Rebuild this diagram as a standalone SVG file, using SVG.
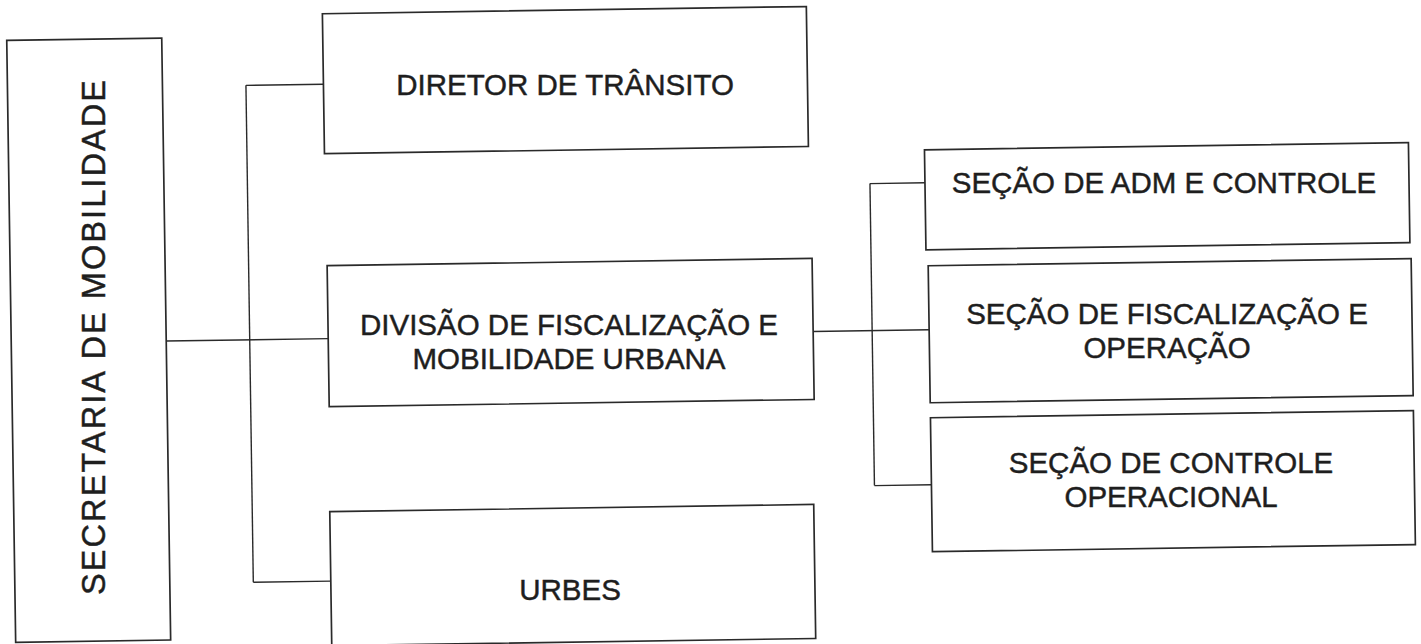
<svg xmlns="http://www.w3.org/2000/svg" width="1421" height="644" viewBox="0 0 1421 644">
<style>
.box{fill:#fff;stroke:#2a2a2a;stroke-width:1.7}
.ln{fill:none;stroke:#2a2a2a;stroke-width:1.4}
.t{font-family:"Liberation Sans",Arial,sans-serif;font-size:29.5px;fill:#1e1e1e;stroke:#1e1e1e;stroke-width:0.45;text-anchor:middle}
</style>
<rect x="0" y="0" width="1421" height="644" fill="#fff"/>
<g id="connectors" transform="rotate(-0.85 710 322)">
<path class="ln" d="M166 333 H328"/>
<path class="ln" d="M249.5 78.5 V575.5"/>
<path class="ln" d="M249.5 78.5 H327"/>
<path class="ln" d="M249.5 575.5 H327"/>
<path class="ln" d="M813 333 H929"/>
<path class="ln" d="M872 186 V488"/>
<path class="ln" d="M872 186 H927"/>
<path class="ln" d="M872 488 H929"/>
</g>
<g id="secretaria">
<rect class="box" x="11" y="30" width="155" height="602" transform="rotate(-0.85 710 322)"/>
<text class="t" style="font-size:32.5px" transform="translate(105 337.5) rotate(-90)" x="0" y="0" textLength="515" lengthAdjust="spacing">SECRETARIA DE MOBILIDADE</text>
</g>
<g id="diretor">
<rect class="box" x="327" y="8" width="484" height="140" transform="rotate(-0.85 710 322)"/>
<text class="t" x="565" y="95">DIRETOR DE TRÂNSITO</text>
</g>
<g id="divisao">
<rect class="box" x="328" y="260" width="485" height="141" transform="rotate(-0.85 710 322)"/>
<text class="t" x="569" y="335">DIVISÃO DE FISCALIZAÇÃO E</text>
<text class="t" x="569" y="369">MOBILIDADE URBANA</text>
</g>
<g id="urbes">
<rect class="box" x="327" y="506" width="484" height="134" transform="rotate(-0.85 710 322)"/>
<text class="t" x="570" y="600">URBES</text>
</g>
<g id="secao-adm">
<rect class="box" x="927" y="153" width="484" height="100" transform="rotate(-0.85 710 322)"/>
<text class="t" x="1164" y="193">SEÇÃO DE ADM E CONTROLE</text>
</g>
<g id="secao-fisc">
<rect class="box" x="929" y="269" width="483" height="137" transform="rotate(-0.85 710 322)"/>
<text class="t" x="1167" y="324">SEÇÃO DE FISCALIZAÇÃO E</text>
<text class="t" x="1167" y="358">OPERAÇÃO</text>
</g>
<g id="secao-ctrl">
<rect class="box" x="929" y="421" width="483" height="134" transform="rotate(-0.85 710 322)"/>
<text class="t" x="1171" y="473">SEÇÃO DE CONTROLE</text>
<text class="t" x="1171" y="507">OPERACIONAL</text>
</g>
</svg>
